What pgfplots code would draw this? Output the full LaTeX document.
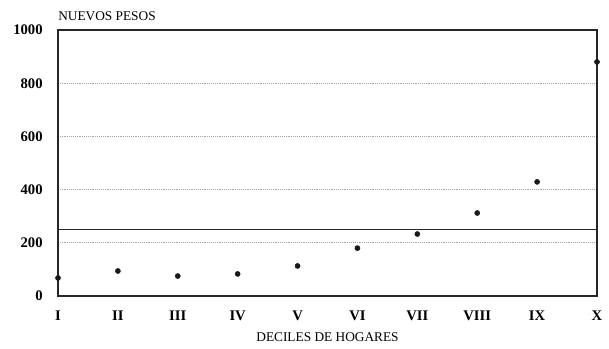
\documentclass[border=0pt]{standalone}
\usepackage{fontspec}
\setmainfont{Liberation Serif}
\usepackage{pgfplots}
\pgfplotsset{compat=1.18}

\begin{document}
\begin{tikzpicture}
    % page of 609x349 px at 0.75pt per px, axis box lower left at (0,0)
    \path[use as bounding box] (-43.5pt,-39.75pt) rectangle (413.25pt,222pt);
    \begin{axis}[
            scale only axis,
            width=404.25pt,
            height=199.5pt,
            xmin=0, xmax=9,
            ymin=0, ymax=1000,
            xtick={0,...,9},
            xticklabels={I,II,III,IV,V,VI,VII,VIII,IX,X},
            ytick={0,200,...,1000},
            major tick length=0pt,
            ymajorgrids,
            major grid style={densely dotted, gray!70, line width=0.6pt},
            axis line style={line width=0.9pt, black!85},
            tick label style={font=\fontsize{11}{12}\selectfont\bfseries},
            xticklabel style={yshift=-8pt},
            yticklabel style={xshift=-8pt},
            /pgf/number format/assume math mode=true,
            /pgf/number format/1000 sep={},
            clip=false,
        ]
            \addplot[black!85, line width=0.7pt] coordinates {(0,250) (9,250)};

            \addplot[only marks, mark=*, mark size=1.9pt, black!90] coordinates {
                (0,68) (1,94) (2,75) (3,83) (4,113)
                (5,180) (6,233) (7,312) (8,429) (9,880)
            };

            \node[anchor=south west, font=\fontsize{10}{12}\selectfont, inner sep=0pt]
                at (rel axis cs:0,1) [yshift=7pt] {NUEVOS PESOS};
            \node[anchor=north, font=\fontsize{10}{12}\selectfont, inner sep=0pt]
                at (rel axis cs:0.5,0) [yshift=-27pt] {DECILES DE HOGARES};
    \end{axis}
\end{tikzpicture}
\end{document}
